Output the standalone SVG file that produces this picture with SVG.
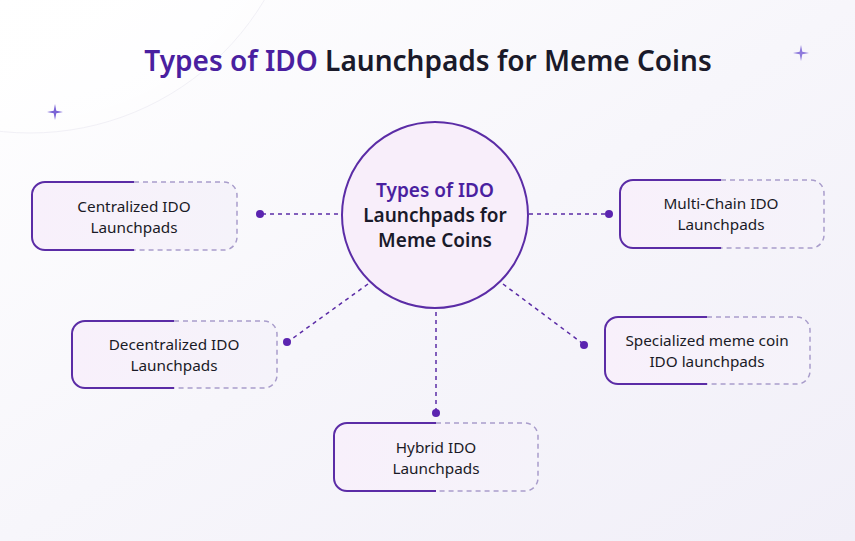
<svg xmlns="http://www.w3.org/2000/svg" width="855" height="541" viewBox="0 0 855 541">
<defs>
<linearGradient id="bg" x1="0" y1="0" x2="1" y2="1">
<stop offset="0" stop-color="#ffffff"/>
<stop offset="0.5" stop-color="#f7f6fb"/>
<stop offset="1" stop-color="#f1eff8"/>
</linearGradient>
<linearGradient id="boxfill" x1="0" y1="0" x2="1" y2="0">
<stop offset="0" stop-color="#f8f0fb"/>
<stop offset="1" stop-color="#f5f3fa"/>
</linearGradient>
<radialGradient id="glow" cx="0.5" cy="0.5" r="0.5">
<stop offset="0.85" stop-color="#ffffff" stop-opacity="0.7"/>
<stop offset="1" stop-color="#ffffff" stop-opacity="0.4"/>
</radialGradient>
<style>
.solid{fill:none;stroke:#5b2ca6;stroke-width:2}
.dash{fill:none;stroke:#a99dcb;stroke-width:1.5;stroke-dasharray:5 4}
.conn{fill:none;stroke:#5b2ca6;stroke-width:1.5;stroke-dasharray:4 4}
.dot{fill:#5b24b0}
.lbl{font-family:"Noto Sans","Open Sans",sans-serif;font-size:15.3px;fill:#1a1a26;text-anchor:middle}
.ctr{font-family:"Noto Sans","Open Sans",sans-serif;font-size:19px;font-weight:600;text-anchor:middle;fill:#1a1a2a}
.star{fill:#7b64d6}
</style>
</defs>
<rect width="855" height="541" fill="url(#bg)"/>
<circle cx="30" cy="-140" r="273" fill="url(#glow)" stroke="#f1f0f6" stroke-width="1"/>
<path class="star" d="M55,104 L56.3,110.7 L63,112 L56.3,113.3 L55,120 L53.7,113.3 L47,112 L53.7,110.7 Z"/>
<path class="star" d="M801,45 L802.3,51.7 L809,53 L802.3,54.3 L801,61 L799.7,54.3 L793,53 L799.7,51.7 Z" opacity="0.85"/>
<text x="428" y="71" font-family="Noto Sans, Open Sans, sans-serif" font-size="28" font-weight="600" text-anchor="middle" fill="#1a1a2a"><tspan fill="#4a1fa0">Types of IDO</tspan> Launchpads for Meme Coins</text>
<g id="connectors">
<line class="conn" x1="262" y1="214" x2="342" y2="214"/>
<circle class="dot" cx="260" cy="214" r="4"/>
<line class="conn" x1="529" y1="214" x2="607" y2="214"/>
<circle class="dot" cx="609" cy="214" r="4"/>
<line class="conn" x1="368" y1="284" x2="289" y2="341"/>
<circle class="dot" cx="287" cy="342" r="4"/>
<line class="conn" x1="503" y1="284" x2="582" y2="343"/>
<circle class="dot" cx="584" cy="345" r="4"/>
<line class="conn" x1="436" y1="312" x2="436" y2="410"/>
<circle class="dot" cx="436" cy="413" r="4"/>
</g>
<g id="center">
<circle cx="435" cy="215" r="93" fill="#f8eefa" stroke="#5b2ca6" stroke-width="2"/>
<text class="ctr" x="435" y="197" style="fill:#4a1fa0">Types of IDO</text>
<text class="ctr" x="435" y="222">Launchpads for</text>
<text class="ctr" x="435" y="247">Meme Coins</text>
</g>
<g id="centralized">
<rect x="32" y="182" width="205" height="68" rx="13" fill="url(#boxfill)"/>
<path class="solid" d="M134,182 H45 A13,13 0 0 0 32,195 V237 A13,13 0 0 0 45,250 H134"/>
<path class="dash" d="M134,182 H224 A13,13 0 0 1 237,195 V237 A13,13 0 0 1 224,250 H134"/>
<text class="lbl" x="134" y="212">Centralized IDO</text>
<text class="lbl" x="134" y="233">Launchpads</text>
</g>
<g id="multichain">
<rect x="620" y="180" width="204" height="68" rx="13" fill="url(#boxfill)"/>
<path class="solid" d="M721,180 H633 A13,13 0 0 0 620,193 V235 A13,13 0 0 0 633,248 H721"/>
<path class="dash" d="M721,180 H811 A13,13 0 0 1 824,193 V235 A13,13 0 0 1 811,248 H721"/>
<text class="lbl" x="721" y="209">Multi-Chain IDO</text>
<text class="lbl" x="721" y="230">Launchpads</text>
</g>
<g id="decentralized">
<rect x="72" y="321" width="205" height="67" rx="13" fill="url(#boxfill)"/>
<path class="solid" d="M174,321 H85 A13,13 0 0 0 72,334 V375 A13,13 0 0 0 85,388 H174"/>
<path class="dash" d="M174,321 H264 A13,13 0 0 1 277,334 V375 A13,13 0 0 1 264,388 H174"/>
<text class="lbl" x="174" y="350">Decentralized IDO</text>
<text class="lbl" x="174" y="371">Launchpads</text>
</g>
<g id="specialized">
<rect x="605" y="317" width="205" height="67" rx="13" fill="url(#boxfill)"/>
<path class="solid" d="M707,317 H618 A13,13 0 0 0 605,330 V371 A13,13 0 0 0 618,384 H707"/>
<path class="dash" d="M707,317 H797 A13,13 0 0 1 810,330 V371 A13,13 0 0 1 797,384 H707"/>
<text class="lbl" x="707" y="346">Specialized meme coin</text>
<text class="lbl" x="707" y="367">IDO launchpads</text>
</g>
<g id="hybrid">
<rect x="334" y="423" width="204" height="68" rx="13" fill="url(#boxfill)"/>
<path class="solid" d="M436,423 H347 A13,13 0 0 0 334,436 V478 A13,13 0 0 0 347,491 H436"/>
<path class="dash" d="M436,423 H525 A13,13 0 0 1 538,436 V478 A13,13 0 0 1 525,491 H436"/>
<text class="lbl" x="436" y="453">Hybrid IDO</text>
<text class="lbl" x="436" y="474">Launchpads</text>
</g>
</svg>
